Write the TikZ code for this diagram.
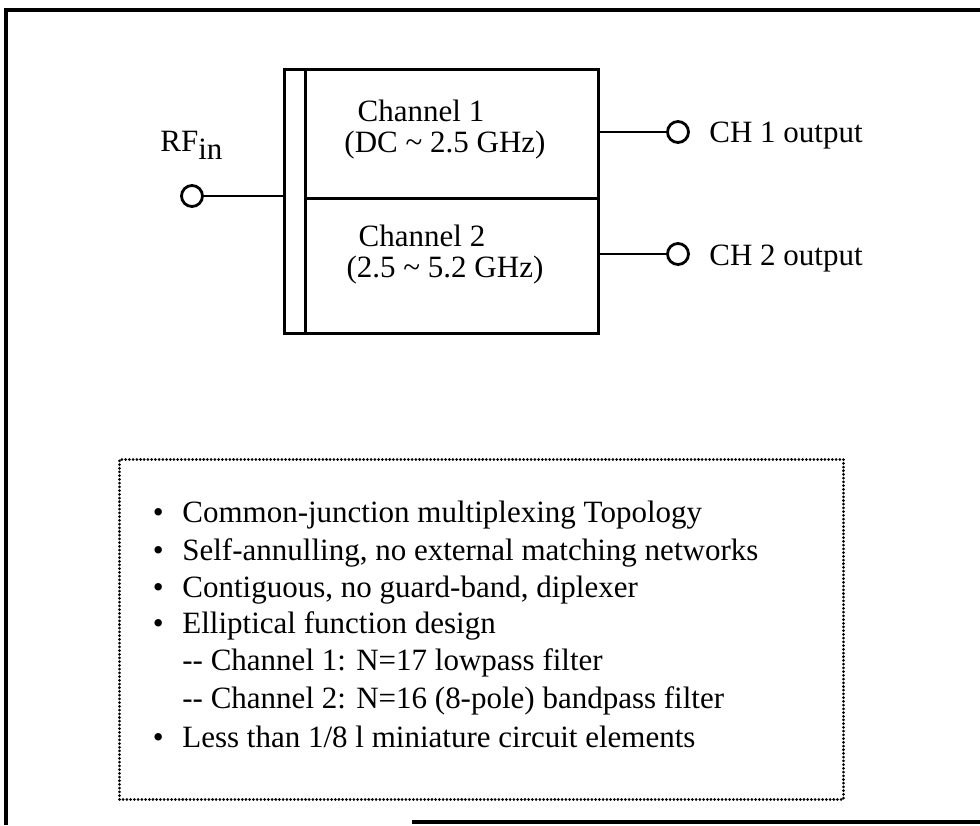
\documentclass[tikz,border=0pt]{standalone}
\usepackage{fontspec}
\setmainfont{Liberation Serif}
\begin{document}
\begin{tikzpicture}[x=0.5pt,y=-0.5pt,
  frame/.style={line width=2pt},
  boxline/.style={draw,line width=1.5pt,inner sep=0pt,anchor=north west},
  wire/.style={line width=1.2pt},
  term/.style={draw,circle,line width=1.4pt,minimum size=10.5pt,inner sep=0pt},
  txt/.style={font=\fontsize{15.5}{18.75}\selectfont,inner sep=0pt},
  item/.style={txt,anchor=base west},
  dotbox/.style={draw,line width=1.5pt,dash pattern=on 0.01pt off 1.85pt,line cap=round,inner sep=0pt,anchor=north west}]
\newcommand{\bulitem}{\makebox[14.75pt][l]{\textbullet}}
\useasboundingbox (0,0) rectangle (980,825);
% outer frame
\draw[frame] (6,825) -- (6,10) -- (980,10);
\draw[frame] (412,822) -- (980,822);
% diplexer block
\node[boxline,minimum width=10.5pt,minimum height=132pt] (jn) at (283,68) {};
\node[boxline,minimum width=146.5pt,minimum height=64.5pt] (ch1) at (304,68) {};
\node[boxline,minimum width=146.5pt,minimum height=67.5pt] (ch2) at (304,197) {};
% terminals
\node[term] (rf) at (192,196) {};
\node[term] (o1) at (678,132) {};
\node[term] (o2) at (678,254) {};
\draw[wire] (rf.east) -- (rf.east -| jn.west);
\draw[wire] (o1.west -| ch1.east) -- (o1.west);
\draw[wire] (o2.west -| ch2.east) -- (o2.west);
% labels
\node[txt,anchor=base west] (rflbl) at (160,151) {RF\raisebox{-4pt}{in}};
\node[txt,anchor=base] (c1a) at (421,121) {Channel 1};
\node[txt,anchor=base] (c1b) at (445,152) {(DC \textasciitilde{} 2.5 GHz)};
\node[txt,anchor=base] (c2a) at (422,246) {Channel 2};
\node[txt,anchor=base] (c2b) at (445,277) {(2.5 \textasciitilde{} 5.2 GHz)};
\node[txt,anchor=base west] (o1lbl) at (709,142) {CH 1 output};
\node[txt,anchor=base west] (o2lbl) at (709,265) {CH 2 output};
% feature box
\node[dotbox,minimum width=362pt,minimum height=170pt] (info) at (118,458) {};
\node[item] (t1) at (152.5,522) {\bulitem Common-junction multiplexing Topology};
\node[item] (t2) at (152.5,560) {\bulitem Self-annulling, no external matching networks};
\node[item] (t3) at (152.5,597) {\bulitem Contiguous, no guard-band, diplexer};
\node[item] (t4) at (152.5,633) {\bulitem Elliptical function design};
\node[item] (t5) at (182,670) {-{}- Channel 1: N=17 lowpass filter};
\node[item] (t6) at (182,708) {-{}- Channel 2: N=16 (8-pole) bandpass filter};
\node[item] (t7) at (152.5,747) {\bulitem Less than 1/8 l miniature circuit elements};
\end{tikzpicture}
\end{document}
